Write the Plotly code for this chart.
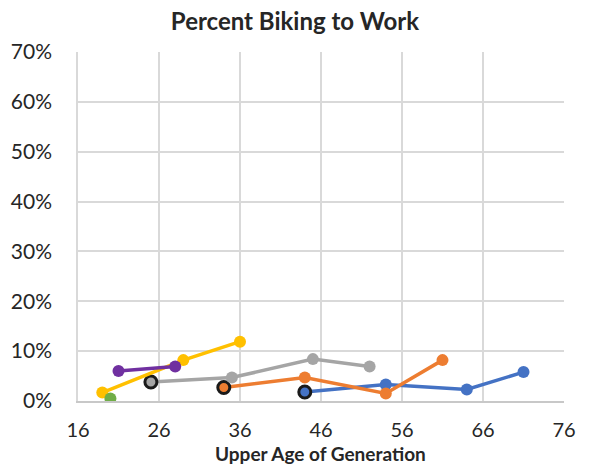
import plotly.graph_objects as go

# Upper age of each generation at each survey, and share biking to work (%)
blue_age = [44, 54, 64, 71]
blue_pct = [1.8, 3.3, 2.3, 5.8]
orange_age = [34, 44, 54, 61]
orange_pct = [2.7, 4.7, 1.5, 8.2]
gray_age = [25, 35, 45, 52]
gray_pct = [3.8, 4.7, 8.4, 6.9]
yellow_age = [19, 29, 36]
yellow_pct = [1.7, 8.2, 11.9]
green_age = [20]
green_pct = [0.5]
purple_age = [21, 28]
purple_pct = [6.0, 6.9]

x_ticks = [16, 26, 36, 46, 56, 66, 76]
y_ticks = [0, 10, 20, 30, 40, 50, 60, 70]

series = [
    (blue_age, blue_pct, "#4472C4", True),
    (orange_age, orange_pct, "#ED7D31", True),
    (gray_age, gray_pct, "#A5A5A5", True),
    (yellow_age, yellow_pct, "#FFC000", False),
    (green_age, green_pct, "#70AD47", False),
    (purple_age, purple_pct, "#7030A0", False),
]

fig = go.Figure()
for ages, pcts, color, first_outlined in series:
    line_colors = [color] * len(ages)
    line_widths = [0] * len(ages)
    if first_outlined:
        line_colors[0] = "#1a1a1a"
        line_widths[0] = 3
    fig.add_trace(go.Scatter(
        x=ages, y=pcts, mode="lines+markers",
        line=dict(color=color, width=3.5),
        marker=dict(color=color, size=12,
                    line=dict(color=line_colors, width=line_widths)),
        showlegend=False, hoverinfo="skip",
    ))

font_family = "Lato, 'Liberation Sans', sans-serif"
fig.update_layout(
    width=590, height=464,
    margin=dict(l=78, r=26, t=52, b=63),
    paper_bgcolor="white", plot_bgcolor="white",
    title=dict(text="<b>Percent Biking to Work</b>", x=0.5, xanchor="center",
               y=1 - 22 / 464, yanchor="middle",
               font=dict(family=font_family, size=24, color="#262626")),
    font=dict(family=font_family, color="#404040"),
)
# x-axis title placed as an annotation just under the tick labels
fig.add_annotation(
    text="<b>Upper Age of Generation</b>", xref="paper", yref="paper",
    x=0.498, y=-52 / 349, xanchor="center", yanchor="middle", showarrow=False,
    font=dict(family=font_family, size=19, color="#262626"),
)
fig.update_xaxes(
    range=[16, 76], tickvals=x_ticks, ticktext=[str(v) for v in x_ticks],
    showgrid=True, gridcolor="#D9D9D9", gridwidth=1.5,
    showline=True, linecolor="#C8C8C8", linewidth=2,
    zeroline=False, ticks="", ticklabelstandoff=10, automargin=False,
    tickfont=dict(size=20, color="#262626"),
)
fig.update_yaxes(
    range=[0, 70], tickvals=y_ticks, ticktext=[f"{v}%" for v in y_ticks],
    showgrid=True, gridcolor="#D9D9D9", gridwidth=1.5,
    showline=True, linecolor="#D9D9D9", linewidth=1.5,
    zeroline=False, ticks="", ticklabelstandoff=20, automargin=False,
    tickfont=dict(size=21, color="#262626"),
)

fig.write_html("out.html")
